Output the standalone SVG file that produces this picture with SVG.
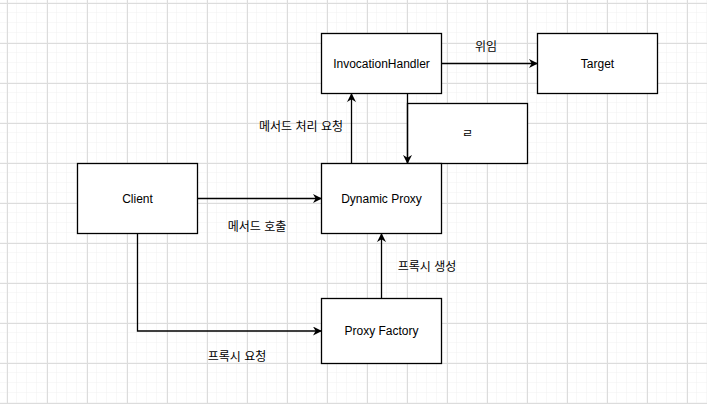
<svg xmlns="http://www.w3.org/2000/svg" width="707" height="404" viewBox="0 0 707 404">
<defs>
<pattern id="minor" x="7" y="3" width="10" height="10" patternUnits="userSpaceOnUse">
<path d="M10 0V10M0 10H10" fill="none" stroke="#f0f0f0" stroke-width="1"/>
</pattern>
<pattern id="major" x="7" y="3" width="40" height="40" patternUnits="userSpaceOnUse">
<path d="M0.5 0V40M0 0.5H40" fill="none" stroke="#dcdcdc" stroke-width="1"/>
</pattern>
<marker id="arr" viewBox="0 0 10 10" refX="9.5" refY="5" markerWidth="9" markerHeight="9" markerUnits="userSpaceOnUse" orient="auto">
<path d="M0 0L10 5L0 10L3 5Z" fill="#000"/>
</marker>
<style>
.box{fill:#fff;stroke:#000;stroke-width:1.3}
.lbl{font-family:"Liberation Sans","Noto Sans CJK KR",sans-serif;font-size:12px;fill:#000;text-anchor:middle;dominant-baseline:central}
.edge{fill:none;stroke:#000;stroke-width:1.3;marker-end:url(#arr)}
</style>
</defs>
<rect width="707" height="404" fill="#fff"/>
<rect width="707" height="404" fill="url(#minor)"/>
<rect width="707" height="404" fill="url(#major)"/>

<g id="node-invocationhandler"><rect class="box" x="321.5" y="33.5" width="120" height="60"/><text class="lbl" x="381.5" y="63.5">InvocationHandler</text></g>
<g id="node-target"><rect class="box" x="537.5" y="33.5" width="120" height="60"/><text class="lbl" x="597.5" y="63.5">Target</text></g>
<g id="node-r"><rect class="box" x="407.5" y="103.5" width="120" height="60"/><text class="lbl" x="467.5" y="133.5">ㄹ</text></g>
<g id="node-client"><rect class="box" x="77.5" y="163.5" width="120" height="70"/><text class="lbl" x="137.5" y="198.5">Client</text></g>
<g id="node-dynamicproxy"><rect class="box" x="321.5" y="163.5" width="120" height="70"/><text class="lbl" x="381.5" y="198.5">Dynamic Proxy</text></g>
<g id="node-proxyfactory"><rect class="box" x="321.5" y="298.5" width="120" height="65"/><text class="lbl" x="381.5" y="331">Proxy Factory</text></g>

<g id="connectors">
<path class="edge" d="M441.5 63.5H537.5"/>
<path class="edge" d="M351.5 163.5V93.5"/>
<path class="edge" d="M407.5 93.5V163.5"/>
<path class="edge" d="M197.5 198.5H321.5"/>
<path class="edge" d="M381.5 298.5V233.5"/>
<path class="edge" d="M137.5 233.5V331H321.5"/>
<text class="lbl" x="486" y="47">위임</text>
<text class="lbl" x="301" y="127">메서드 처리 요청</text>
<text class="lbl" x="257" y="227">메서드 호출</text>
<text class="lbl" x="427" y="267">프록시 생성</text>
<text class="lbl" x="237" y="357">프록시 요청</text>
</g>
</svg>
